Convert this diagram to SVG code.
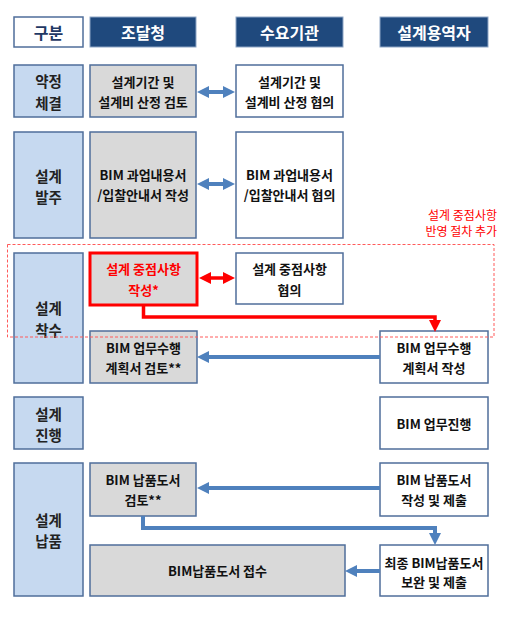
<svg xmlns="http://www.w3.org/2000/svg" width="510" height="617" viewBox="0 0 510 617">
<defs>
<style>
.hd{fill:#1F497D;stroke:#8EA6C6;stroke-width:1}
.hdt{fill:#fff;font-family:"Noto Sans CJK KR","Liberation Sans",sans-serif;font-weight:bold;font-size:16px;text-anchor:middle;dominant-baseline:central}
.gb{fill:#fff;stroke:#4F6E9A;stroke-width:1.5}
.lc{fill:#C6D9F0;stroke:#4F6E9A;stroke-width:1.5}
.gr{fill:#D9D9D9;stroke:#4F6E9A;stroke-width:1.5}
.wh{fill:#fff;stroke:#4F6E9A;stroke-width:1.5}
.rb{fill:#D9D9D9;stroke:#FF0000;stroke-width:3}
.lt{fill:#222;font-family:"Noto Sans CJK KR","Liberation Sans",sans-serif;font-weight:bold;font-size:14.5px;text-anchor:middle;dominant-baseline:central}
.bt{fill:#111;font-family:"Noto Sans CJK KR","Liberation Sans",sans-serif;font-weight:bold;font-size:13px;text-anchor:middle;dominant-baseline:central}
.rt{fill:#FF0000}
.note{fill:#FF0000;font-family:"Noto Sans CJK KR","Liberation Sans",sans-serif;font-size:12px;text-anchor:end;dominant-baseline:central}
.bl{fill:none;stroke:#4F81BD;stroke-width:4}
.rl{fill:none;stroke:#FF0000;stroke-width:3.5}
</style>
<marker id="ab" viewBox="0 0 10 10" refX="5" refY="5" markerWidth="12" markerHeight="14" markerUnits="userSpaceOnUse" orient="auto-start-reverse"><path d="M0,0 L10,5 L0,10 z" fill="#4F81BD"/></marker>
<marker id="ar" viewBox="0 0 10 10" refX="5" refY="5" markerWidth="12" markerHeight="14" markerUnits="userSpaceOnUse" orient="auto-start-reverse"><path d="M0,0 L10,5 L0,10 z" fill="#FF0000"/></marker>
</defs>
<rect width="510" height="617" fill="#fff"/>

<g id="h-gubun"><rect class="gb" x="14" y="17" width="69" height="30"/><text class="hdt" x="48.5" y="32" style="fill:#1F3864">구분</text></g>
<g id="h-pps"><rect class="hd" x="90" y="17" width="106" height="30"/><text class="hdt" x="143" y="32">조달청</text></g>
<g id="h-client"><rect class="hd" x="236" y="17" width="107" height="30"/><text class="hdt" x="289.5" y="32">수요기관</text></g>
<g id="h-designer"><rect class="hd" x="380" y="17" width="108" height="30"/><text class="hdt" x="434" y="32">설계용역자</text></g>

<g id="s1"><rect class="lc" x="14" y="65" width="69" height="52"/><text class="lt" x="48.5" y="80">약정</text><text class="lt" x="48.5" y="102">체결</text></g>
<g id="n1a"><rect class="gr" x="90" y="65" width="106" height="52"/><text class="bt" x="143" y="81">설계기간 및</text><text class="bt" x="143" y="101">설계비 산정 검토</text></g>
<g id="n1b"><rect class="wh" x="236" y="65" width="107" height="52"/><text class="bt" x="289.5" y="81">설계기간 및</text><text class="bt" x="289.5" y="101">설계비 산정 협의</text></g>

<g id="s2"><rect class="lc" x="14" y="132" width="69" height="106"/><text class="lt" x="48.5" y="175">설계</text><text class="lt" x="48.5" y="196">발주</text></g>
<g id="n2a"><rect class="gr" x="90" y="132" width="106" height="106"/><text class="bt" x="143" y="174">BIM 과업내용서</text><text class="bt" x="143" y="194">/입찰안내서 작성</text></g>
<g id="n2b"><rect class="wh" x="236" y="132" width="107" height="106"/><text class="bt" x="289.5" y="174">BIM 과업내용서</text><text class="bt" x="289.5" y="194">/입찰안내서 협의</text></g>

<g id="s3"><rect class="lc" x="14" y="253" width="69" height="130"/><text class="lt" x="48.5" y="307">설계</text><text class="lt" x="48.5" y="329">착수</text></g>
<g id="n3a"><rect class="rb" x="90" y="253" width="107" height="52"/><text class="bt rt" x="143.5" y="268">설계 중점사항</text><text class="bt rt" x="143.5" y="289">작성*</text></g>
<g id="n3b"><rect class="wh" x="236" y="253" width="107" height="51"/><text class="bt" x="289.5" y="268">설계 중점사항</text><text class="bt" x="289.5" y="289">협의</text></g>
<g id="n3c"><rect class="gr" x="90" y="331" width="107" height="52"/><text class="bt" x="143.5" y="347">BIM 업무수행</text><text class="bt" x="143.5" y="367">계획서 검토**</text></g>
<g id="n3d"><rect class="wh" x="380" y="331" width="108" height="52"/><text class="bt" x="434" y="347">BIM 업무수행</text><text class="bt" x="434" y="367">계획서 작성</text></g>

<g id="s4"><rect class="lc" x="14" y="397" width="69" height="52"/><text class="lt" x="48.5" y="413">설계</text><text class="lt" x="48.5" y="434">진행</text></g>
<g id="n4"><rect class="wh" x="380" y="397" width="108" height="52"/><text class="bt" x="434" y="423">BIM 업무진행</text></g>

<g id="s5"><rect class="lc" x="14" y="463" width="69" height="133"/><text class="lt" x="48.5" y="519">설계</text><text class="lt" x="48.5" y="540">납품</text></g>
<g id="n5a"><rect class="gr" x="90" y="463" width="106" height="53"/><text class="bt" x="143" y="479">BIM 납품도서</text><text class="bt" x="143" y="499">검토**</text></g>
<g id="n5b"><rect class="wh" x="380" y="463" width="108" height="53"/><text class="bt" x="434" y="479">BIM 납품도서</text><text class="bt" x="434" y="499">작성 및 제출</text></g>
<g id="n5c"><rect class="gr" x="90" y="545" width="255" height="51"/><text class="bt" x="217.5" y="570">BIM납품도서 접수</text></g>
<g id="n5d"><rect class="wh" x="380" y="545" width="108" height="51"/><text class="bt" x="434" y="562">최종 BIM납품도서</text><text class="bt" x="434" y="581">보완 및 제출</text></g>

<g id="connectors">
<line class="bl" x1="203" y1="92" x2="229" y2="92" marker-start="url(#ab)" marker-end="url(#ab)"/>
<line class="bl" x1="203" y1="184" x2="229" y2="184" marker-start="url(#ab)" marker-end="url(#ab)"/>
<line class="rl" x1="205" y1="278" x2="229" y2="278" marker-start="url(#ar)" marker-end="url(#ar)"/>
<path class="rl" d="M143.5,306 V317 H435 V326" marker-end="url(#ar)"/>
<line class="bl" x1="380" y1="357" x2="203" y2="357" marker-end="url(#ab)"/>
<line class="bl" x1="380" y1="488" x2="203" y2="488" marker-end="url(#ab)"/>
<path class="bl" d="M143,516 V528 H435 V539" marker-end="url(#ab)"/>
<line class="bl" x1="380" y1="571" x2="351" y2="571" marker-end="url(#ab)"/>
</g>

<g id="note">
<rect x="7.5" y="244.5" width="486.5" height="92.5" fill="none" stroke="#FF5A5A" stroke-width="1" stroke-dasharray="3,2"/>
<text class="note" x="497" y="214">설계 중점사항</text>
<text class="note" x="497" y="230">반영 절차 추가</text>
</g>
</svg>
